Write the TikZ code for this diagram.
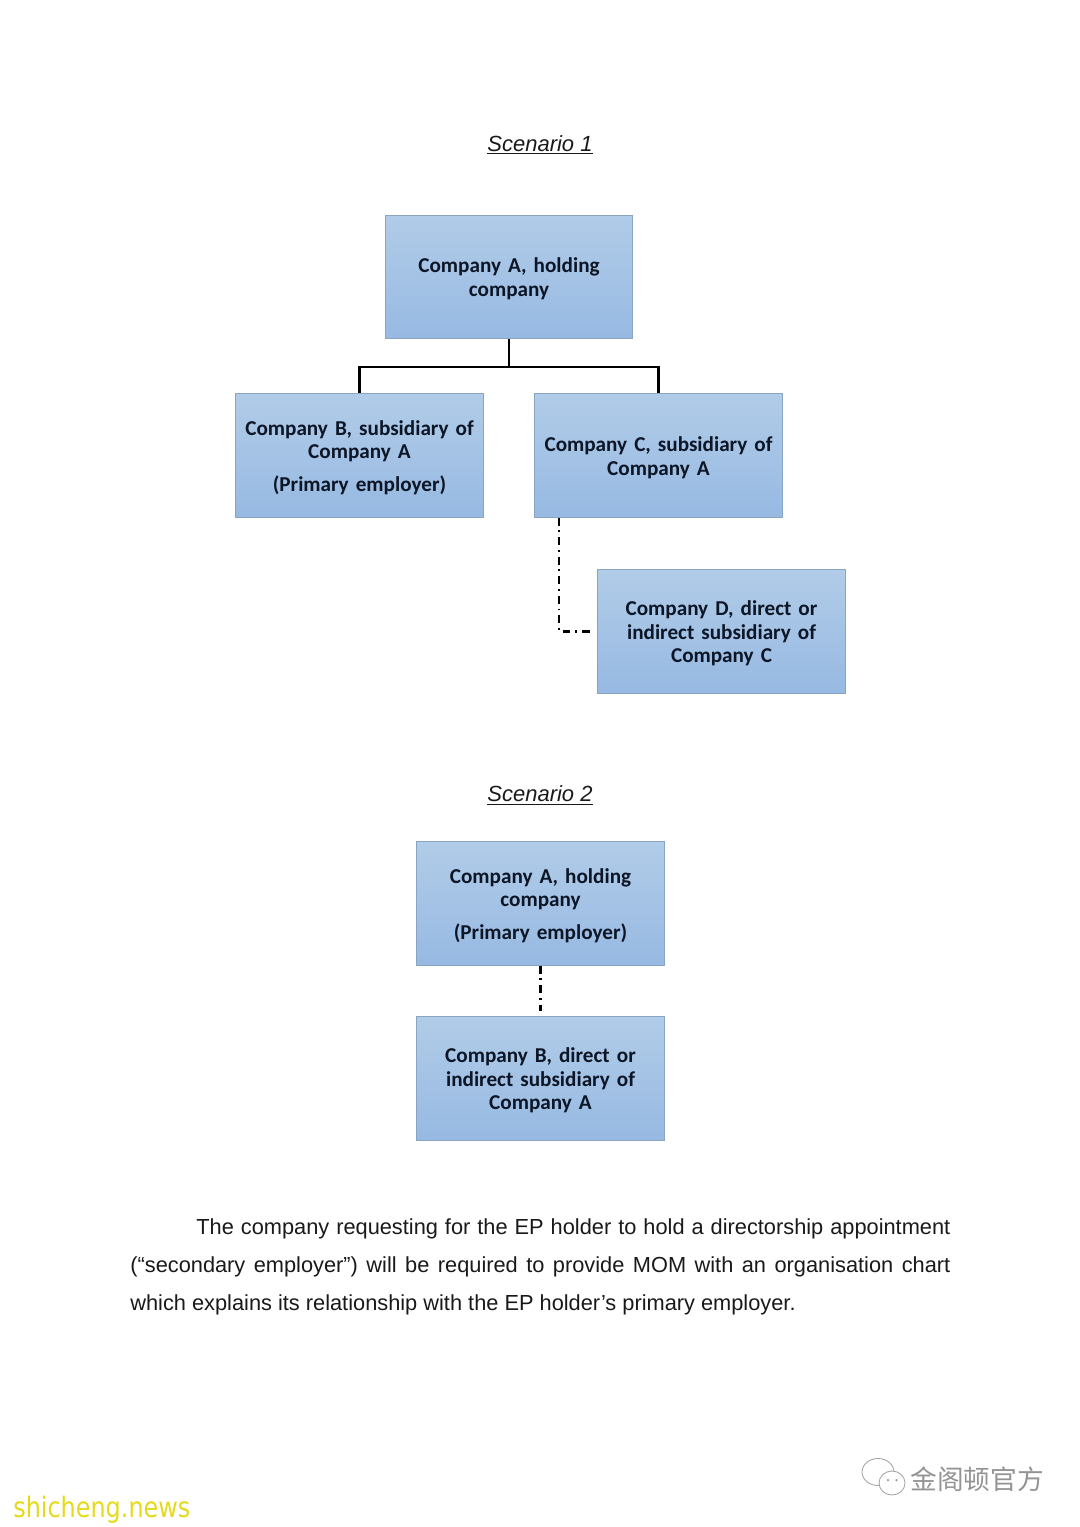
\documentclass[tikz,border=0pt]{standalone}
\usepackage{fontspec}
\setmainfont{Carlito}
\newfontfamily\bodyfont{Liberation Sans}
\newfontfamily\markfont[FakeStretch=0.85]{DejaVu Sans}
\newfontfamily\cjkfont{Noto Sans CJK SC}
\usepackage{tikz}
\usetikzlibrary{positioning}
\usepackage{xcolor}
\definecolor{boxtop}{HTML}{B1CCE8}
\definecolor{boxbottom}{HTML}{97B9E2}
\definecolor{boxedge}{HTML}{8AA4C4}
\definecolor{boxtext}{HTML}{0C1626}

\begin{document}
\begin{tikzpicture}[every node/.style={font=\fontsize{12}{13.6}\selectfont},
  box/.style={draw=boxedge,line width=0.45pt,top color=boxtop,bottom color=boxbottom,minimum width=4.95cm,minimum height=2.47cm,align=center,inner sep=0pt,text width=4.8cm,text=boxtext,font=\fontsize{12.05}{13.5}\selectfont\bfseries,execute at begin node=\rule{0pt}{10.6pt}},
  title/.style={font=\fontsize{12.5}{15}\selectfont\bodyfont\itshape,text=black!90},
  link/.style={line width=1.15pt,black},
  dotlink/.style={line width=1.2pt,black,dash pattern=on 4.5pt off 2.8pt on 1pt off 2.8pt}]
\useasboundingbox (0,0) rectangle (21.6,-30.54);
% scenario 1
\node[title] (TitleOne) at (10.8,-2.9) {\underline{Scenario 1}};
\node[box] (A) at (10.18,-5.54) {Company A, holding\\company};
\node[box] (B) at (7.19,-9.11) {Company B, subsidiary of\\Company A\\[0.17cm](Primary employer)};
\node[box] (C) at (13.17,-9.11) {Company C, subsidiary of\\Company A};
\node[box] (D) at (14.43,-12.63) {Company D, direct or\\indirect subsidiary of\\Company C};
\coordinate (Fork) at (10.18,-7.34);
\draw[link] (A) -- (Fork);
\draw[link] (Fork) -| (B);
\draw[link] (Fork) -| (C);
\draw[dotlink] ([xshift=0.5cm]C.south west) |- ([xshift=-0.08cm]D.west);
% scenario 2
\node[title] (TitleTwo) at (10.8,-15.91) {\underline{Scenario 2}};
\node[box] (Ahold) at (10.81,-18.07) {Company A, holding\\company\\[0.17cm](Primary employer)};
\node[box] (Bsub) at (10.81,-21.57) {Company B, direct or\\indirect subsidiary of\\Company A};
\draw[dotlink] (Ahold) -- ([yshift=0.1cm]Bsub.north);
% closing paragraph
\node[anchor=north west,inner sep=0pt,text width=16.4cm,align=justify,text=black!90,font=\fontsize{12.4}{21.6}\selectfont\bodyfont] (Para) at (2.6,-24.36)
  {\hspace*{1.32cm}The company requesting for the EP holder to hold a directorship appointment (“secondary employer”) will be required to provide MOM with an organisation chart which explains its relationship with the EP holder’s primary employer.\par};
% marks in the corners
\node[anchor=west,inner sep=0pt,text=yellow!88!black,font=\fontsize{16}{18}\selectfont\markfont] (Site) at (0.26,-30.2) {shicheng.news};
\node[anchor=west,inner sep=0pt,text=black!42,font=\fontsize{15.2}{18}\selectfont\cjkfont] (Account) at (18.2,-29.58) {金阁顿官方};
\draw[black!35,fill=white,line width=0.5pt] (17.56,-29.44) ellipse (0.32 and 0.27);
\draw[black!35,fill=white,line width=0.5pt] (17.84,-29.66) ellipse (0.26 and 0.24);
\fill[black!40] (17.76,-29.6) circle (0.025) (17.93,-29.6) circle (0.025);
\end{tikzpicture}
\end{document}
